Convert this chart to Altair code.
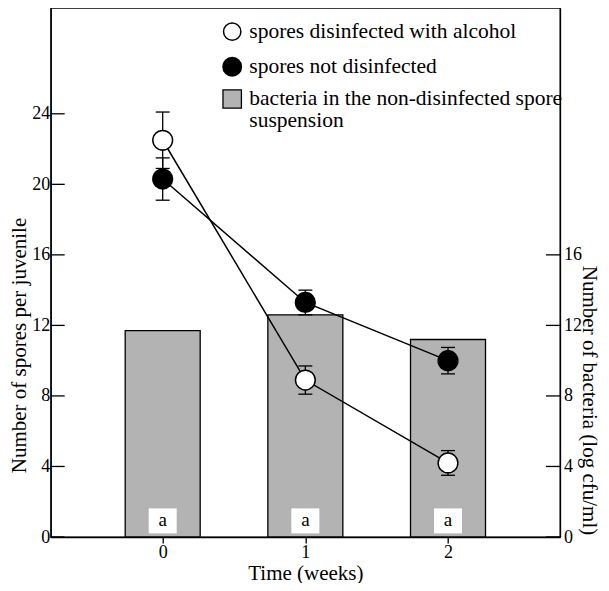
import altair as alt
import pandas as pd

# ---------------- data ----------------
weeks = [0, 1, 2]
alcohol_mean = [22.5, 8.9, 4.2]
alcohol_err = [1.6, 0.8, 0.7]
plain_mean = [20.3, 13.3, 10.0]
plain_err = [1.2, 0.7, 0.75]
bacteria_log = [11.7, 12.6, 11.2]
bar_letters = ["a", "a", "a"]
left_ticks = [0, 4, 8, 12, 16, 20, 24]
right_ticks = [0, 4, 8, 12, 16]
series_names = ["spores disinfected with alcohol", "spores not disinfected"]
legend_lines = ["spores disinfected with alcohol", "spores not disinfected",
                "bacteria in the non-disinfected spore", "suspension"]

# ---------------- layout ----------------
W, H = 509.3, 529
FONT = "Liberation Serif"
BAR_FILL = "#b3b3b3"

spores = pd.DataFrame({
    "week": weeks * 2,
    "series": [series_names[0]] * 3 + [series_names[1]] * 3,
    "mean": alcohol_mean + plain_mean,
    "err": alcohol_err + plain_err,
})
spores["lo"] = spores["mean"] - spores["err"]
spores["hi"] = spores["mean"] + spores["err"]

bars_df = pd.DataFrame({"week": weeks, "bacteria": bacteria_log, "letter": bar_letters})
lt_df = pd.DataFrame({"v": left_ticks})
rt_df = pd.DataFrame({"v": right_ticks})

xscale = alt.Scale(domain=[-0.75, 2.75], nice=False, zero=False)
yscale = alt.Scale(domain=[0, 30], nice=False, zero=False)

common_axis = dict(grid=False, domainColor="black", domainWidth=1.3,
                   labelFont=FONT, labelFontSize=18, labelColor="black",
                   titleFont=FONT, titleFontSize=21, titleFontWeight="normal",
                   titleColor="black")

x_axis = alt.Axis(orient="bottom", values=weeks, title="Time (weeks)", format="d",
                  tickColor="black", tickWidth=1.3, tickSize=6, labelPadding=0,
                  titleY=36, titleBaseline="middle", **common_axis)
left_axis = alt.Axis(orient="left", values=left_ticks, title="Number of spores per juvenile",
                     ticks=False, tickSize=0, labelPadding=1, labelBaseline="middle",
                     titleAngle=270, titleX=-31, titleY=337, titleBaseline="middle",
                     titleAlign="center", **common_axis)
right_axis = alt.Axis(orient="right", values=right_ticks, title="Number of bacteria (log cfu/ml)",
                      ticks=False, tickSize=0, labelPadding=3.5, labelBaseline="middle",
                      titleAngle=90, titleX=28.5, titleY=392, titleBaseline="middle",
                      titleAlign="center", **common_axis)


def X():
    return alt.X("week:Q", scale=xscale, axis=x_axis)


def Y(field, axis=None):
    return alt.Y(field, scale=yscale, axis=axis)


bars = alt.Chart(bars_df).mark_bar(size=75, orient="vertical", fill=BAR_FILL,
                                   stroke="black", strokeWidth=1.3).encode(
    x=X(), y=Y("bacteria:Q", right_axis))

boxes = alt.Chart(bars_df).mark_rect(width=28, fill="white").encode(
    x=X(), y=alt.value(H - 28.6), y2=alt.value(H - 3.6))

box_text = alt.Chart(bars_df).mark_text(font=FONT, fontSize=19, color="black",
                                        baseline="middle").encode(
    x=X(), y=alt.value(H - 17), text="letter:N")

lines = alt.Chart(spores).mark_line(color="black", strokeWidth=1.5).encode(
    x=X(), y=Y("mean:Q"), detail="series:N")

err_rules = alt.Chart(spores).mark_rule(color="black", strokeWidth=1.3).encode(
    x=X(), y=Y("lo:Q"), y2="hi:Q")

cap_lo = alt.Chart(spores).mark_tick(orient="horizontal", size=14, thickness=1.3,
                                     color="black", opacity=1).encode(x=X(), y=Y("lo:Q"))
cap_hi = alt.Chart(spores).mark_tick(orient="horizontal", size=14, thickness=1.3,
                                     color="black", opacity=1).encode(x=X(), y=Y("hi:Q"))

open_pts = alt.Chart(spores).transform_filter(
    alt.datum.series == series_names[0]).mark_circle(
    fill="white", stroke="black", strokeWidth=1.5, size=390, opacity=1).encode(
    x=X(), y=Y("mean:Q", left_axis))

filled_pts = alt.Chart(spores).transform_filter(
    alt.datum.series == series_names[1]).mark_circle(
    color="black", size=450, opacity=1).encode(x=X(), y=Y("mean:Q"))

left_tk = alt.Chart(lt_df).mark_rule(color="black", strokeWidth=1.3).encode(
    y=Y("v:Q"), x=alt.value(0), x2=alt.value(14))
right_tk = alt.Chart(rt_df).mark_rule(color="black", strokeWidth=1.3).encode(
    y=Y("v:Q"), x=alt.value(W - 14), x2=alt.value(W))

# ---------------- manual legend ----------------
leg_df = pd.DataFrame({"label": legend_lines})
LX_SYM, LX_TXT = 181.5, 198.6
leg_rows_y = [23.7, 58.7, 91, 113]

leg_open = alt.Chart(leg_df.iloc[[0]]).mark_circle(
    fill="white", stroke="black", strokeWidth=1.5, size=300, opacity=1).encode(
    x=alt.value(LX_SYM), y=alt.value(leg_rows_y[0]))
leg_fill = alt.Chart(leg_df.iloc[[1]]).mark_circle(
    color="black", size=400, opacity=1).encode(
    x=alt.value(LX_SYM), y=alt.value(leg_rows_y[1]))
leg_sq = alt.Chart(leg_df.iloc[[2]]).mark_square(
    fill=BAR_FILL, stroke="black", strokeWidth=1.3, size=340, opacity=1).encode(
    x=alt.value(LX_SYM), y=alt.value(leg_rows_y[2]))

leg_texts = [
    alt.Chart(leg_df.iloc[[i]]).mark_text(font=FONT, fontSize=21.5, color="black",
                                          align="left", baseline="middle").encode(
        x=alt.value(LX_TXT), y=alt.value(leg_rows_y[i]), text="label:N")
    for i in range(4)
]

chart = alt.layer(
    bars, boxes, box_text, lines, err_rules, cap_lo, cap_hi, open_pts, filled_pts,
    left_tk, right_tk, leg_open, leg_fill, leg_sq, *leg_texts
).resolve_axis(y="independent").properties(
    width=W, height=H,
    autosize=alt.AutoSizeParams(type="none"),
    padding={"left": 42.7, "top": 0, "right": 41, "bottom": 46},
).configure_view(stroke="black", strokeWidth=1.3).configure_axisRight(
    titleFontSize=20).configure_axisBottom(titleFontSize=20)

chart.save("out.html", embed_options={"renderer": "svg", "actions": False})
